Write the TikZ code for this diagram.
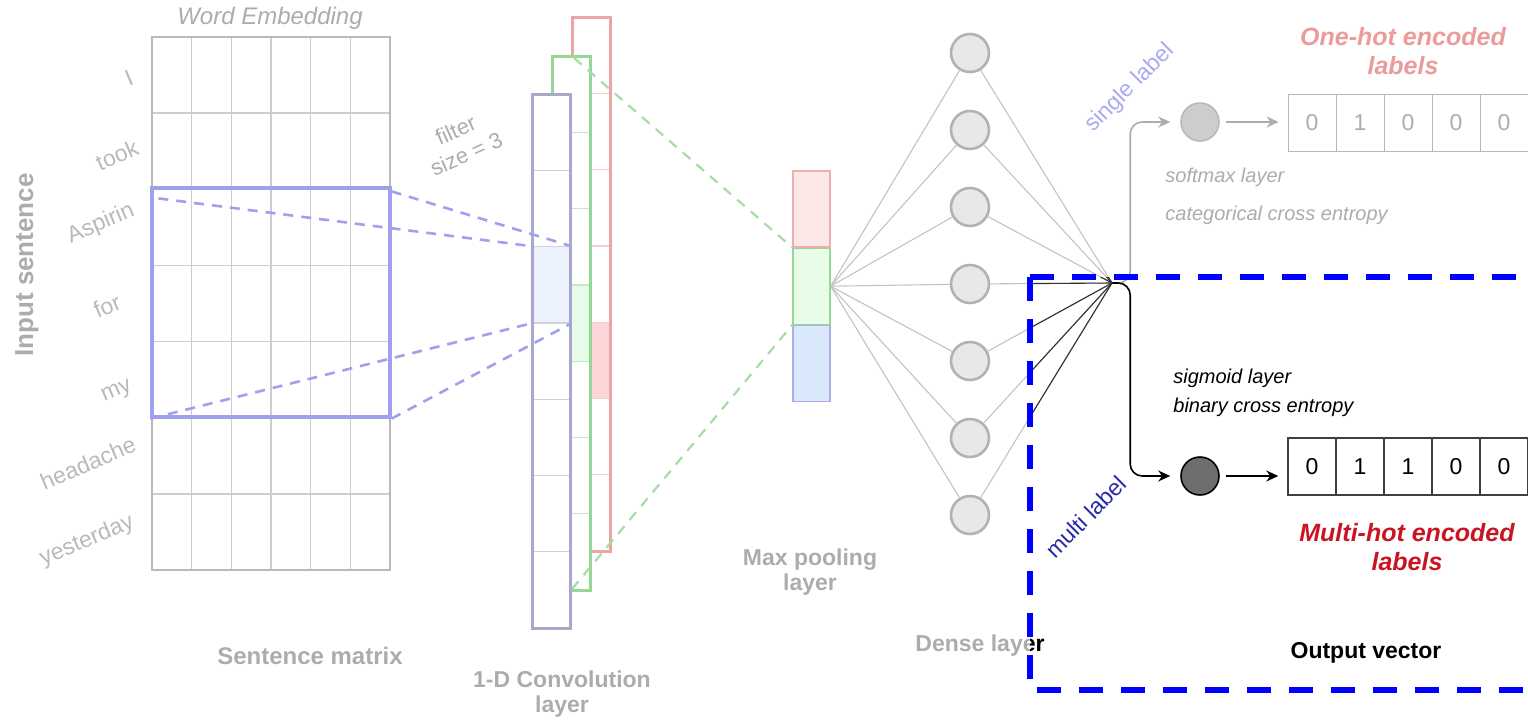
\documentclass[tikz,border=0pt]{standalone}
\usepackage{fontspec}
\setmainfont{Liberation Sans}
\usetikzlibrary{positioning,arrows.meta}
\definecolor{fadetext}{RGB}{172,172,172}
\definecolor{wordtext}{RGB}{185,185,185}
\definecolor{cellgray}{RGB}{205,205,205}
\definecolor{framegray}{RGB}{185,185,185}
\definecolor{filterblue}{RGB}{160,160,238}
\definecolor{convblue}{RGB}{168,168,205}
\definecolor{convgreen}{RGB}{150,215,150}
\definecolor{convred}{RGB}{235,165,165}
\definecolor{hlblue}{RGB}{236,241,254}
\definecolor{hlgreen}{RGB}{230,252,232}
\definecolor{hlred}{RGB}{252,214,214}
\definecolor{poolred}{RGB}{253,232,232}
\definecolor{poolgreen}{RGB}{232,252,232}
\definecolor{poolblue}{RGB}{218,232,252}
\definecolor{neuronfill}{RGB}{232,232,232}
\definecolor{neurondraw}{RGB}{178,178,178}
\definecolor{linkgray}{RGB}{195,195,195}
\definecolor{softfill}{RGB}{205,205,205}
\definecolor{sigfill}{RGB}{110,110,110}
\definecolor{onehotred}{RGB}{235,155,155}
\definecolor{multired}{RGB}{200,20,35}
\definecolor{multiblue}{RGB}{40,40,170}
\definecolor{singleblue}{RGB}{170,170,240}
\begin{document}
\begin{tikzpicture}[x=0.5pt,y=-0.5pt,font=\fontsize{11}{13}\selectfont,
  cellline/.style={draw=cellgray,line width=0.7pt},
  filterline/.style={draw=filterblue,line width=1.3pt,dash pattern=on 5pt off 4pt},
  poolline/.style={draw=convgreen!85,line width=1.1pt,dash pattern=on 5pt off 4pt},
  pool/.style={rectangle,minimum width=18.5pt,minimum height=38pt,inner sep=0pt,line width=0.6pt},
  neuron/.style={circle,draw=neurondraw,fill=neuronfill,line width=1.3pt,minimum size=19pt,inner sep=0pt},
  link/.style={draw=linkgray,line width=0.55pt},
  outnode/.style={circle,minimum size=19pt,inner sep=0pt,line width=0.8pt},
  tip/.style={-{Stealth[length=6pt,width=5.5pt]},line width=0.8pt},
  vcell/.style={rectangle,minimum width=24pt,minimum height=28.5pt,inner sep=0pt,font=\fontsize{11.5}{13}\selectfont},
  title/.style={text=fadetext,font=\fontsize{11.5}{12.5}\selectfont\bfseries,align=center},
  word/.style={text=wordtext,rotate=23,font=\fontsize{11.5}{13}\selectfont},
  note/.style={font=\fontsize{10}{12}\selectfont\itshape,anchor=west,inner sep=0pt},
  outbox/.style={draw=blue,line width=3pt,dash pattern=on 12pt off 9pt}]
\useasboundingbox (0,0) rectangle (1528,719);

% sentence matrix
\foreach \i in {1,...,5} \draw[cellline] ({152+39.67*\i},37) -- ({152+39.67*\i},570);
\foreach \j in {1,...,6} \draw[cellline] (152,{37+76.14*\j}) -- (390,{37+76.14*\j});
\draw[draw=framegray,line width=1.2pt] (152,37) rectangle (390,570);
\node[draw=filterblue,line width=1.6pt,minimum width=119pt,minimum height=114.5pt,inner sep=0pt] (flt) at (271,302.5) {};
\foreach \w/\x/\y in {I/129/78,took/117/155,Aspirin/101/224,for/107/306,my/117/392,headache/88/463,yesterday/87/541}
  \node[word] (w-\w) at (\x,\y) {\w};
\node[title,rotate=90,font=\fontsize{13}{15}\selectfont\bfseries] (insent) at (27,265) {Input sentence};
\node[text=fadetext,font=\fontsize{12}{14}\selectfont\itshape] (wemb) at (270,18) {Word Embedding};
\node[title,font=\fontsize{12}{14}\selectfont\bfseries] (smat) at (310,656) {Sentence matrix};
\node[text=fadetext,rotate=24,align=center] (fsize) at (461,142) {filter\\size = 3};

% conv columns
\foreach \cx/\ty/\cc/\hc/\hf in {572/17/convred/4/hlred,552/56/convgreen/3/hlgreen,532/94/convblue/2/hlblue}{
  \fill[white] (\cx,\ty) rectangle ++(38,534);
  \fill[\hf] (\cx,{\ty+76.3*\hc}) rectangle ++(38,76.3);
  \foreach \k in {1,...,6} \draw[\cc!55,line width=0.6pt] (\cx,{\ty+76.3*\k}) -- ++(38,0);
  \draw[\cc,line width=1.5pt] (\cx,\ty) rectangle ++(38,534);
}
\node[minimum width=19.5pt,minimum height=38.15pt,inner sep=0pt] (cb) at (551.5,284.75) {};
\coordinate (gtop) at (574,58);
\coordinate (gbot) at (572,589);

% max pooling
\node[pool,draw=convred!90,fill=poolred] (mp-r) at (811.5,209) {};
\node[pool,draw=convgreen,fill=poolgreen,below=0pt of mp-r] (mp-g) {};
\node[pool,draw=convblue!70!blue!60,fill=poolblue,below=0pt of mp-g] (mp-b) {};

\draw[filterline] ([shift={(8,12)}]flt.north west) -- (cb.north west);
\draw[filterline] ([shift={(0,5)}]flt.north east) -- (cb.north east);
\draw[filterline] (flt.south west) -- (cb.south west);
\draw[filterline] (flt.south east) -- (cb.south east);
\draw[poolline] (gtop) -- (mp-g.north west);
\draw[poolline] (gbot) -- (mp-g.south west);

% dense layer
\foreach \i in {1,...,7} \node[neuron] (d\i) at (970,{53+77*(\i-1)}) {};
\coordinate (hub) at (1112,283);
\foreach \i in {1,...,7} {\draw[link] (mp-g.east) -- (d\i); \draw[link] (d\i) -- (hub);}
\node[title] (dense) at (980,646) {Dense layer};
\node[title] (pooltxt) at (810,572) {Max pooling\\layer};
\node[title] (convtxt) at (562,694) {1-D Convolution\\layer};

% outputs
\node[outnode,draw=framegray,fill=softfill] (soft) at (1200,122) {};
\node[outnode,draw=black,fill=sigfill] (sig) at (1200,476) {};
\foreach \v [count=\i] in {0,1,0,0,0} \node[vcell,draw=framegray,text=fadetext] (oh\i) at ({1264+48*\i},122.5) {\v};
\foreach \v [count=\i] in {0,1,1,0,0} \node[vcell,draw=black!75,line width=0.7pt] (mh\i) at ({1264+48*\i},466.5) {\v};
\draw[tip,draw=fadetext,rounded corners=6pt,shorten >=5pt] (hub) -| ([xshift=-25pt]soft.west) -- (soft);
\draw[tip,rounded corners=6pt,shorten >=5pt] (hub) -| ([xshift=-25pt]sig.west) -- (sig);
\draw[tip,draw=fadetext,shorten <=3pt,shorten >=4.5pt] (soft) -- (soft -| oh1.west);
\draw[tip,shorten <=3pt,shorten >=4.5pt] (sig) -- (sig -| mh1.west);
\node[text=onehotred,font=\fontsize{12.5}{14.5}\selectfont\bfseries\itshape,align=center] (ohtxt) at (1403,51) {One-hot encoded\\labels};
\node[text=multired,font=\fontsize{12.5}{14.5}\selectfont\bfseries\itshape,align=center] (mhtxt) at (1407,547) {Multi-hot encoded\\labels};
\node[note,text=fadetext] (smx) at (1165,177) {softmax layer};
\node[note,text=fadetext] (cce) at (1165,215) {categorical cross entropy};
\node[note] (sgm) at (1173,378) {sigmoid layer};
\node[note] (bce) at (1173,407) {binary cross entropy};
\node[text=singleblue,rotate=45,font=\fontsize{11.5}{13}\selectfont] (single) at (1130,88) {single label};
\node[text=multiblue,rotate=45,font=\fontsize{11.5}{13}\selectfont] (multi) at (1086,517) {multi label};
\node[font=\fontsize{11.5}{13}\selectfont\bfseries] (outvec) at (1366,653) {Output vector};

% the part in focus
\begin{scope}
\clip (1030,277) rectangle (1528,719);
\foreach \i in {1,...,7} \draw[link,draw=black!80] (d\i) -- (hub);
\node[title,text=black] (dense-in) at (dense) {Dense layer};
\end{scope}
\draw[outbox] (1030,277) -- (1545,277);
\draw[outbox] (1030,277) -- (1030,689);
\draw[outbox] (1037,690) -- (1545,690);
\end{tikzpicture}
\end{document}
